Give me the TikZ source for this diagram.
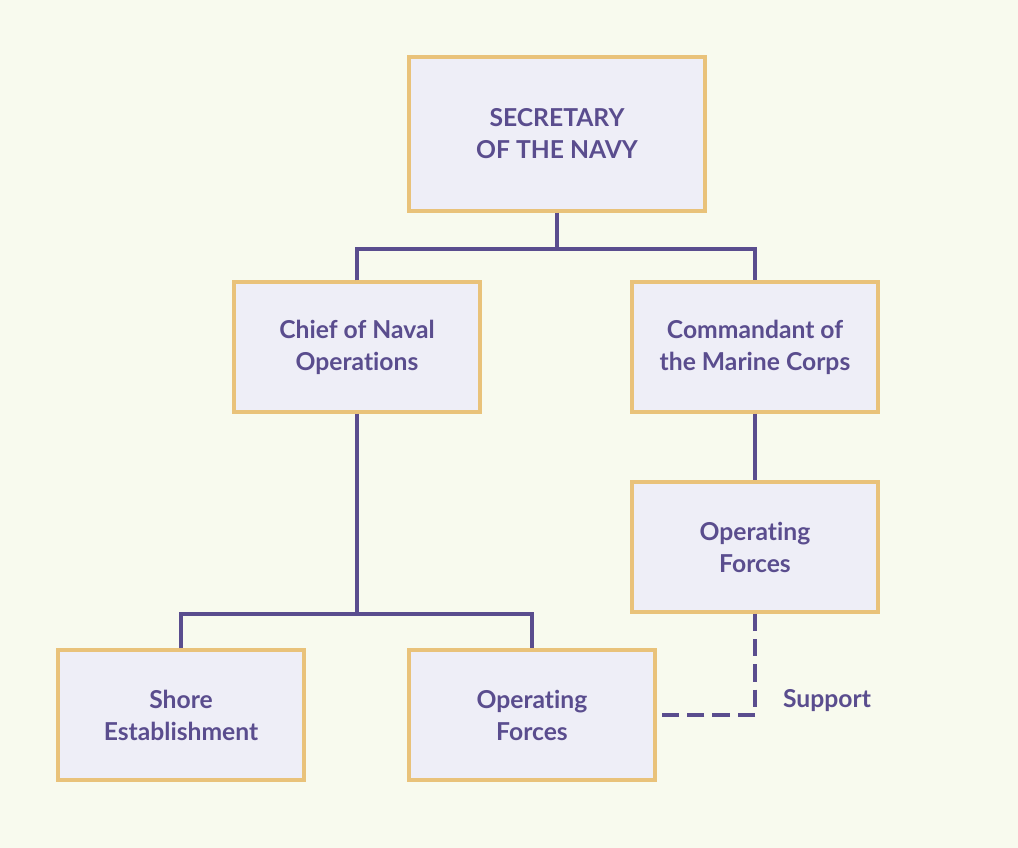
\documentclass[tikz,border=0pt]{standalone}
\usepackage{fontspec}
\setmainfont{Lato}[Ligatures=NoCommon]
\usepackage{xcolor}

\definecolor{paper}{HTML}{F8FAEE}
\definecolor{boxfill}{HTML}{EEEEF7}
\definecolor{gold}{HTML}{E9C27A}
\definecolor{navyline}{HTML}{5A4D8E}

\begin{document}
\begin{tikzpicture}[x=0.75pt, y=-0.75pt]
  % Define styles
  \tikzset{
    box/.style={draw=gold, line width=3pt, fill=boxfill, text=navyline,
      minimum width=185pt, minimum height=97pt, align=center,
      font=\fontsize{18.5}{24}\selectfont\bfseries},
    link/.style={navyline, line width=3pt},
    support/.style={navyline, line width=3pt, dash pattern=on 13pt off 6pt},
    label/.style={text=navyline, font=\fontsize{18.5}{24}\selectfont\bfseries}
  }
  % Background
  \fill[paper] (0,0) rectangle (1018,848);
  % Boxes
  \node[box, minimum width=222pt, minimum height=115pt] (secnav) at (557,134) {SECRETARY\\OF THE NAVY};
  \node[box] (cno) at (357,347) {Chief of Naval\\Operations};
  \node[box] (cmc) at (755,347) {Commandant of\\the Marine Corps};
  \node[box] (marops) at (755,547) {Operating\\Forces};
  \node[box] (shore) at (181,715) {Shore\\Establishment};
  \node[box] (navyops) at (532,715) {Operating\\Forces};
  % Branch points
  \coordinate (top) at (557,249);
  \coordinate (cnofork) at (357,614);
  % Connectors
  \draw[link] (secnav.south) -- (top);
  \draw[link] (cno.north) |- (top) -| (cmc.north);
  \draw[link] (cno.south) -- (cnofork);
  \draw[link] (shore.north) |- (cnofork) -| (navyops.north);
  \draw[link] (cmc.south) -- (marops.north);
  % Support line
  \draw[support] (marops.south) |- (navyops.east);
  \node[label] (supp) at (827,701) {Support};
\end{tikzpicture}
\end{document}
